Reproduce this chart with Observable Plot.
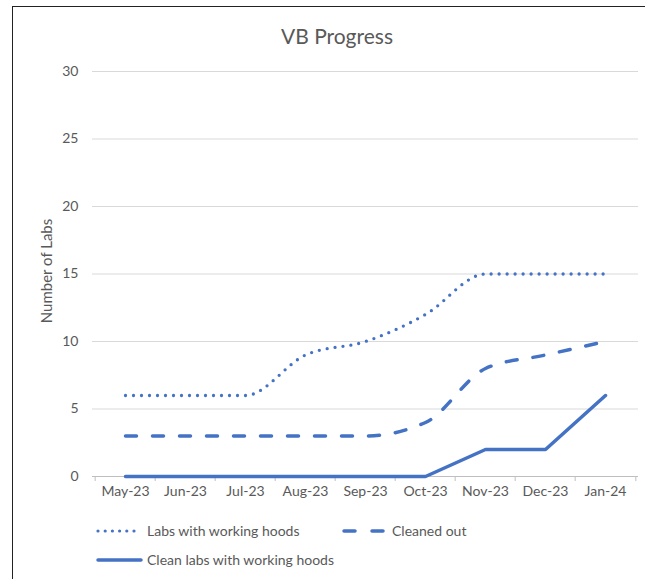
<!DOCTYPE html>
<html>
<head>
<meta charset="utf-8">
<script src="https://cdn.jsdelivr.net/npm/d3@7"></script>
<script src="https://cdn.jsdelivr.net/npm/@observablehq/plot@0.6"></script>
<style>
  html, body { margin: 0; padding: 0; background: #fff; }
  #chart { position: relative; width: 645px; height: 579px; overflow: hidden; font-family: Lato, "Open Sans", sans-serif; color: #595959; }
  #frame { position: absolute; left: 12px; top: 6px; width: 800px; height: 800px; border-left: 1px solid #222; border-top: 1px solid #222; }
  #title { position: absolute; left: 0; width: 674px; top: 23px; text-align: center; font-size: 21px; color: #595959; }
  #plot { position: absolute; left: 0; top: 0; }
  .legsym { position: absolute; }
  .legtxt { position: absolute; font-size: 14px; line-height: 18px; color: #595959; white-space: nowrap; }
</style>
</head>
<body>
<div id="chart">
  <div id="frame"></div>
  <div id="title">VB Progress</div>
  <div id="plot"></div>
  <div id="legend"></div>
</div>
<script>
const months = ["May-23","Jun-23","Jul-23","Aug-23","Sep-23","Oct-23","Nov-23","Dec-23","Jan-24"];
const labsWithHoods = [6,6,6,9,10,12,15,15,15];
const cleanedOut = [3,3,3,3,3,4,8,9,10];
const cleanLabsWithHoods = [0,0,0,0,0,0,2,2,6];
const yTicks = [0,5,10,15,20,25,30];
const seriesNames = ["Labs with working hoods","Cleaned out","Clean labs with working hoods"];

const blue = "#4472C4";
const W = 645, H = 520, mL = 92, mR = 7, mT = 71, mB = 44;
const bw = (W - mL - mR) / months.length;

const rows = (vals) => months.map((m, i) => ({month: m, value: vals[i]}));

const plot = Plot.plot({
  width: W, height: H,
  marginLeft: mL, marginRight: mR, marginTop: mT, marginBottom: mB,
  style: {fontFamily: "Lato, 'Open Sans', sans-serif", fontSize: "14px", color: "#595959", background: "transparent", overflow: "visible"},
  x: {type: "band", domain: months, padding: 0, label: null},
  y: {domain: [0, 30], label: null},
  marks: [
    Plot.gridY(yTicks.filter(d => d > 0), {stroke: "#d9d9d9", strokeOpacity: 1, strokeWidth: 1}),
    Plot.ruleY([0], {stroke: "#bfbfbf", strokeWidth: 1}),
    Plot.axisX({tickSize: 5, tickFormat: () => "", stroke: "#bfbfbf", strokeOpacity: 1, dx: -bw / 2}),
    Plot.axisX([months[months.length - 1]], {tickSize: 5, tickFormat: () => "", stroke: "#bfbfbf", strokeOpacity: 1, dx: bw / 2}),
    Plot.axisX({tickSize: 0, tickPadding: 10, fill: "#595959", fontSize: 14, label: null}),
    Plot.axisY({ticks: yTicks, tickSize: 0, tickPadding: 14, fill: "#595959", fontSize: 14, label: null}),
    Plot.text(["Number of Labs"], {frameAnchor: "left", textAnchor: "middle", rotate: -90, dx: -45, dy: -3, fill: "#595959", fontSize: 15}),
    Plot.line(rows(labsWithHoods), {x: "month", y: "value", stroke: blue, strokeWidth: 3.3, strokeDasharray: "0 8", strokeLinecap: "round", curve: "monotone-x"}),
    Plot.line(rows(cleanedOut), {x: "month", y: "value", stroke: blue, strokeWidth: 3.5, strokeDasharray: "11 16", strokeLinecap: "round", curve: "monotone-x"}),
    Plot.line(rows(cleanLabsWithHoods), {x: "month", y: "value", stroke: blue, strokeWidth: 3.5, strokeLinecap: "round"})
  ]
});
document.getElementById("plot").appendChild(plot);

// Legend
const legend = document.getElementById("legend");
const legendItems = [
  {name: seriesNames[0], dash: "0 7.2", x1: 98, x2: 141, textLeft: 147, y: 531, sw: 3.2},
  {name: seriesNames[1], dash: "11 17", x1: 344, x2: 383, textLeft: 392, y: 531, sw: 3.5},
  {name: seriesNames[2], dash: null, x1: 98, x2: 141, textLeft: 147, y: 560, sw: 3.5}
];
legendItems.forEach(it => {
  const svg = d3.create("svg").attr("class", "legsym")
    .attr("width", it.x2 - it.x1 + 8).attr("height", 10)
    .style("left", (it.x1 - 4) + "px").style("top", (it.y - 5) + "px");
  svg.append("line").attr("x1", 4).attr("x2", it.x2 - it.x1 + 4).attr("y1", 5).attr("y2", 5)
    .attr("stroke", blue).attr("stroke-width", it.sw).attr("stroke-linecap", "round")
    .attr("stroke-dasharray", it.dash);
  legend.appendChild(svg.node());
  const span = document.createElement("div");
  span.className = "legtxt";
  span.style.left = it.textLeft + "px";
  span.style.top = (it.y - 9) + "px";
  span.textContent = it.name;
  legend.appendChild(span);
});
</script>
</body>
</html>
